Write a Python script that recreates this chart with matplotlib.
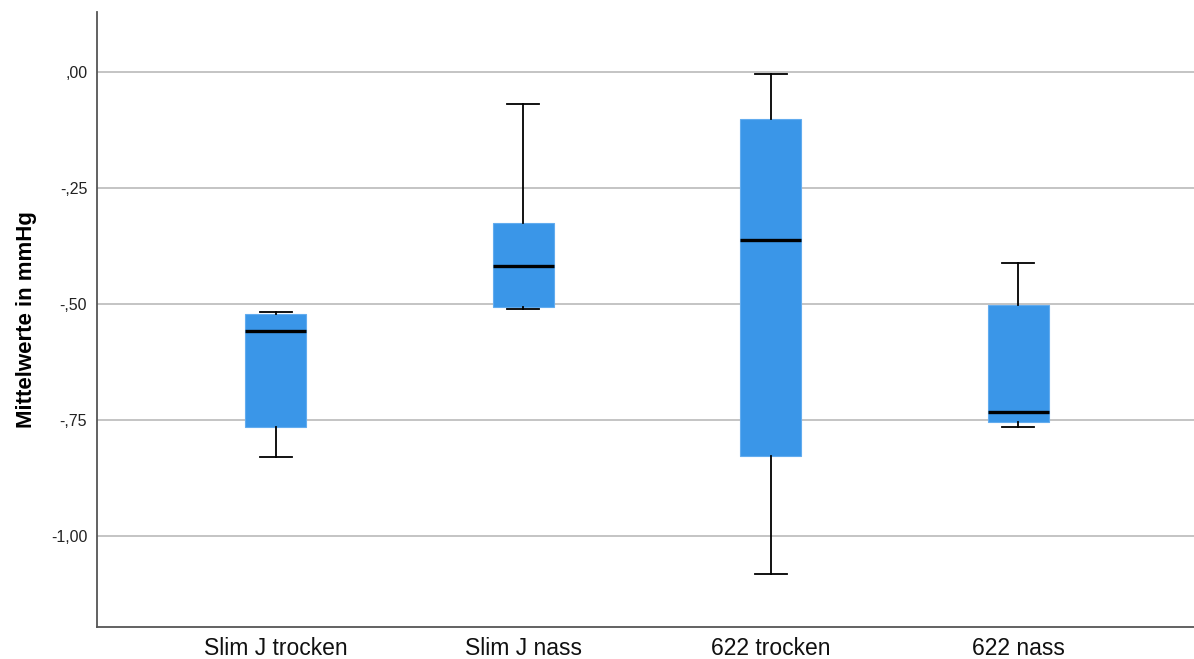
import matplotlib.pyplot as plt
from matplotlib.ticker import FuncFormatter

# values (mmHg)
groups = ['Slim J trocken', 'Slim J nass', '622 trocken', '622 nass']
whis_lo = [-0.829, -0.511, -1.082, -0.764]
q1 = [-0.765, -0.506, -0.828, -0.754]
medians = [-0.557, -0.418, -0.361, -0.732]
q3 = [-0.522, -0.326, -0.101, -0.502]
whis_hi = [-0.517, -0.069, -0.003, -0.411]
y_ticks = [0.0, -0.25, -0.5, -0.75, -1.0]

plt.rcParams['font.family'] = ['Liberation Sans', 'DejaVu Sans']

fig = plt.figure(figsize=(11.94, 6.59), dpi=100)
ax = fig.add_axes([0.0812, 0.0486, 0.9188, 0.9334])

stats = []
for i, g in enumerate(groups):
    stats.append({'label': g, 'whislo': whis_lo[i], 'q1': q1[i], 'med': medians[i],
                  'q3': q3[i], 'whishi': whis_hi[i], 'fliers': []})

ax.bxp(stats, positions=range(1, len(groups) + 1), widths=0.246, patch_artist=True,
       showfliers=False, capwidths=0.13,
       boxprops=dict(facecolor='#3a96e8', edgecolor='#62acef', linewidth=0.8),
       medianprops=dict(color='black', linewidth=2.4, solid_capstyle='butt'),
       whiskerprops=dict(color='black', linewidth=1.3),
       capprops=dict(color='black', linewidth=1.3),
       zorder=3)

ax.set_xlim(0.277, 4.71)
ax.set_ylim(-1.196, 0.13)
ax.set_yticks(y_ticks)
# SPSS-style labels: ,00  -,25  -1,00
ax.yaxis.set_major_formatter(FuncFormatter(
    lambda v, p: ('-' if v < 0 else '') + ('%.2f' % abs(v)).replace('0.', ',', 1).replace('1.', '1,', 1)))
ax.grid(axis='y', color='#c4c4c4', linewidth=1.4, zorder=0)
ax.set_axisbelow(True)

for s in ['top', 'right']:
    ax.spines[s].set_visible(False)
for s in ['left', 'bottom']:
    ax.spines[s].set_color('#555555')
    ax.spines[s].set_linewidth(1.3)

ax.tick_params(axis='y', length=0, pad=7, labelsize=11.5, colors='#222222')
ax.tick_params(axis='x', length=0, pad=7, labelsize=16.5, colors='#111111')
ax.set_ylabel('Mittelwerte in mmHg', fontsize=16, fontweight='bold', labelpad=10)

fig.savefig('out.png', dpi=100, facecolor='white')
